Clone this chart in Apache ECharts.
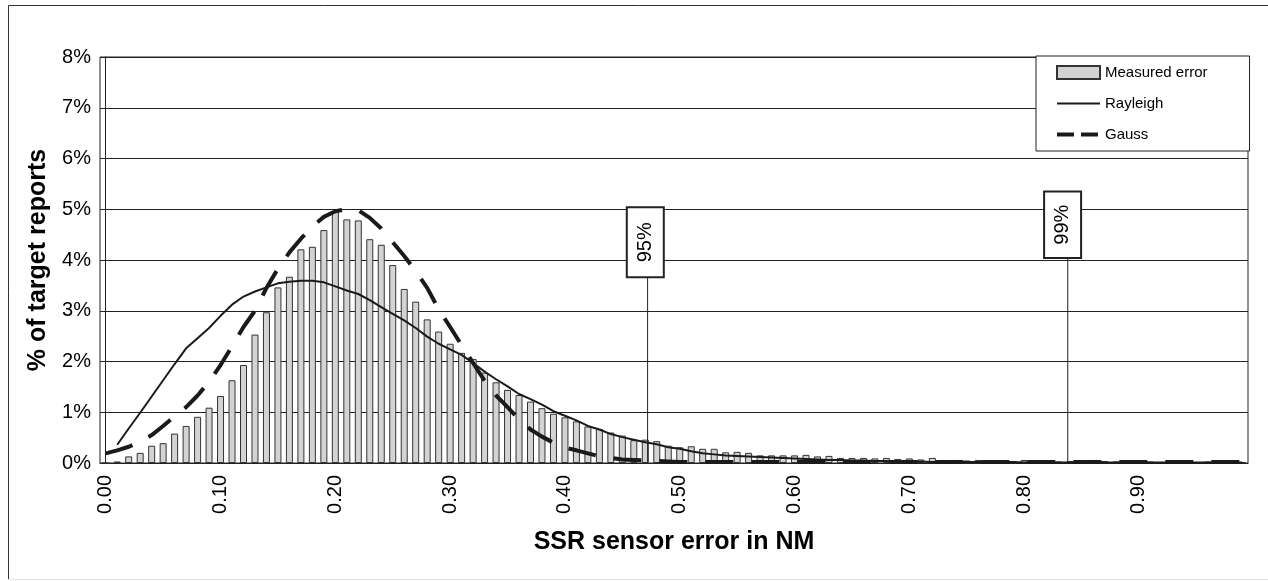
<!DOCTYPE html>
<html lang="en">
<head>
    <meta charset="UTF-8">
    <title>SSR sensor error</title>
    <style>
        html, body { margin: 0; padding: 0; background: #fff; }
    </style>
</head>
<body>
<div id="container" style="width:1268px;height:581px"></div>
<script type="text/javascript" src="https://cdn.jsdelivr.net/npm/echarts@6/dist/echarts.min.js"></script>
<script type="text/javascript">
    // categories 0.00 .. 0.99 NM
    var categories = [];
    for (var i = 0; i < 100; i++) {
        categories.push((i / 100).toFixed(2));
    }

    // measured error, % of target reports per 0.01 NM bin
    var measured = [
        0, 0.03, 0.13, 0.20, 0.34, 0.39, 0.58, 0.73, 0.91, 1.09,
        1.32, 1.63, 1.93, 2.53, 2.97, 3.46, 3.67, 4.21, 4.26, 4.59,
        4.95, 4.80, 4.78, 4.41, 4.30, 3.90, 3.43, 3.18, 2.83, 2.59,
        2.35, 2.17, 2.05, 1.78, 1.59, 1.44, 1.34, 1.21, 1.08, 0.97,
        0.90, 0.82, 0.72, 0.67, 0.60, 0.54, 0.45, 0.46, 0.43, 0.34,
        0.31, 0.33, 0.28, 0.28, 0.21, 0.22, 0.20, 0.15, 0.15, 0.15,
        0.15, 0.16, 0.13, 0.14, 0.10, 0.10, 0.10, 0.09, 0.10, 0.08,
        0.09, 0.07, 0.10, 0.06, 0.06, 0.05, 0.06, 0.05, 0.05, 0.04,
        0.06, 0.03, 0.04, 0.03, 0.04, 0.03, 0.06, 0.04, 0.03, 0.02,
        0.04, 0.03, 0.02, 0.03, 0.02, 0.02, 0.03, 0.02, 0.02, 0.02
    ];

    var rayleigh = [
        '-', 0.36, 0.68, 0.99, 1.31, 1.63, 1.95, 2.26, 2.46, 2.66,
        2.90, 3.12, 3.28, 3.38, 3.46, 3.54, 3.57, 3.59, 3.59, 3.56,
        3.48, 3.40, 3.33, 3.21, 3.07, 2.94, 2.81, 2.66, 2.49, 2.35,
        2.24, 2.13, 1.97, 1.80, 1.65, 1.51, 1.36, 1.26, 1.15, 1.02,
        0.93, 0.84, 0.73, 0.66, 0.57, 0.51, 0.46, 0.41, 0.37, 0.31,
        0.28, 0.23, 0.19, 0.17, 0.15, 0.14, 0.13, 0.12, 0.11, 0.10,
        0.09, 0.08, 0.07, 0.06, 0.06, 0.05, 0.05, 0.04, 0.04, 0.03,
        0.03, 0.03, 0.02, 0.02, 0.02, 0.02, 0.02, 0.02, 0.02, 0.02,
        0.01, 0.01, 0.01, 0.01, 0.01, 0.01, 0.01, 0.01, 0.01, 0.01,
        0.01, 0.01, 0.01, 0.01, 0.01, 0.01, 0.01, 0.01, 0.01, 0.01
    ];

    var gauss = [
        0.19, 0.25, 0.32, 0.42, 0.55, 0.73, 0.92, 1.10, 1.33, 1.60,
        1.93, 2.30, 2.68, 3.00, 3.45, 3.83, 4.15, 4.42, 4.66, 4.85,
        4.96, 5.00, 4.98, 4.83, 4.62, 4.35, 4.08, 3.78, 3.45, 3.03,
        2.68, 2.32, 1.97, 1.62, 1.33, 1.10, 0.86, 0.66, 0.52, 0.40,
        0.30, 0.25, 0.19, 0.13, 0.10, 0.07, 0.06, 0.05, 0.04, 0.03,
        0.02, 0.02, 0.02, 0.02, 0.02, 0.02, 0.02, 0.02, 0.02, 0.02,
        0.02, 0.02, 0.02, 0.02, 0.02, 0.02, 0.02, 0.02, 0.02, 0.02,
        0.02, 0.02, 0.02, 0.02, 0.02, 0.02, 0.02, 0.02, 0.02, 0.02,
        0.02, 0.02, 0.02, 0.02, 0.02, 0.02, 0.02, 0.02, 0.02, 0.02,
        0.02, 0.02, 0.02, 0.02, 0.02, 0.02, 0.02, 0.02, 0.02, 0.02
    ];

    // 95% / 99% quantile markers (in category-index units), box top/bottom in %
    var markerText = ['95%', '99%'];
    var markerLineX = [47.2, 83.8];
    var markerBoxX = [47.0, 83.35];
    var markerTop = [5.04, 5.35];
    var markerBottom = [3.66, 4.04];

    var yTicks = [0, 1, 2, 3, 4, 5, 6, 7, 8];

    var markers = markerText.map(function (t, k) {
        return [markerLineX[k], markerBoxX[k], markerTop[k], markerBottom[k]];
    });

    var font = '"Liberation Sans", Arial, sans-serif';

    var dom = document.getElementById('container');
    var myChart = echarts.init(dom, null, { renderer: 'canvas' });

    var option = {
        backgroundColor: '#fff',
        animation: false,
        textStyle: { fontFamily: font, color: '#000' },
        grid: {
            left: 100, right: 20, top: 57, bottom: 118,
            show: true, borderColor: '#222', borderWidth: 1, backgroundColor: '#fff'
        },
        legend: {
            orient: 'vertical',
            left: 1036, top: 56,
            padding: [9, 42, 9, 19],
            itemGap: 16,
            itemWidth: 43, itemHeight: 13,
            itemTextGap: 5,
            backgroundColor: '#fff',
            borderColor: '#222', borderWidth: 1, borderRadius: 0,
            textStyle: { fontFamily: font, fontSize: 15, color: '#000' },
            data: [
                { name: 'Measured error', icon: 'rect' },
                { name: 'Rayleigh', itemStyle: { opacity: 0 }, lineStyle: { width: 2 } },
                { name: 'Gauss', itemStyle: { opacity: 0 }, lineStyle: { type: [17, 7], width: 4 } }
            ]
        },
        xAxis: [
            {
                type: 'category',
                data: categories,
                boundaryGap: true,
                axisLine: { lineStyle: { color: '#222', width: 1 } },
                axisTick: { interval: 4, length: 4, lineStyle: { color: '#222' } },
                axisLabel: {
                    interval: 9, rotate: 90, margin: 12,
                    fontSize: 20, color: '#000', fontFamily: font
                },
                name: 'SSR sensor error in NM',
                nameLocation: 'middle',
                nameGap: 67,
                nameTextStyle: { fontSize: 25, fontWeight: 'bold', color: '#000', fontFamily: font }
            },
            {
                type: 'value', min: -0.5, max: 99.5, show: false
            }
        ],
        yAxis: {
            type: 'value',
            min: 0, max: 8, interval: 1,
            axisLine: { show: true, lineStyle: { color: '#222' } },
            axisTick: { show: true, length: 5, lineStyle: { color: '#222' } },
            splitLine: { lineStyle: { color: '#222', width: 1 } },
            axisLabel: {
                formatter: function (v) { return yTicks.indexOf(v) >= 0 ? v + '%' : ''; },
                fontSize: 20, color: '#000', margin: 9, fontFamily: font
            },
            name: '% of target reports',
            nameLocation: 'middle',
            nameGap: 49,
            nameTextStyle: { fontSize: 25, fontWeight: 'bold', color: '#000', fontFamily: font }
        },
        series: [
            {
                name: 'Measured error',
                type: 'bar',
                data: measured,
                barWidth: 7,
                itemStyle: { color: '#d3d3d3', borderColor: '#333', borderWidth: 1 },
                z: 2
            },
            {
                name: 'Rayleigh',
                type: 'line',
                data: rayleigh,
                symbol: 'none',
                lineStyle: { color: '#1a1a1a', width: 2 },
                itemStyle: { color: '#1a1a1a' },
                z: 3
            },
            {
                name: 'Gauss',
                type: 'line',
                data: gauss,
                symbol: 'none',
                lineStyle: { color: '#1a1a1a', width: 4, type: [28, 18] },
                itemStyle: { color: '#1a1a1a' },
                z: 4
            },
            {
                name: 'markers',
                type: 'custom',
                xAxisIndex: 1,
                data: markers,
                encode: { x: [0, 1], y: [2, 3] },
                z: 5,
                renderItem: function (params, api) {
                    var pl0 = api.coord([api.value(0), api.value(3)]);
                    var pl1 = api.coord([api.value(0), 0]);
                    var pt = api.coord([api.value(1), api.value(2)]);
                    var pb = api.coord([api.value(1), api.value(3)]);
                    var w = 37;
                    return {
                        type: 'group',
                        children: [
                            {
                                type: 'line',
                                shape: { x1: pl0[0], y1: pl0[1], x2: pl1[0], y2: pl1[1] },
                                style: { stroke: '#222', lineWidth: 1 }
                            },
                            {
                                type: 'rect',
                                shape: { x: pt[0] - w / 2, y: pt[1], width: w, height: pb[1] - pt[1] },
                                style: { fill: '#fff', stroke: '#222', lineWidth: 2 }
                            },
                            {
                                type: 'text',
                                x: pt[0],
                                y: (pt[1] + pb[1]) / 2,
                                rotation: Math.PI / 2,
                                style: {
                                    text: markerText[params.dataIndex],
                                    fill: '#000',
                                    font: '20px ' + font,
                                    align: 'center',
                                    verticalAlign: 'middle'
                                }
                            }
                        ]
                    };
                }
            }
        ],
        graphic: [
            {
                type: 'polyline',
                shape: { points: [[8.5, 580], [8.5, 5.5], [1268, 5.5]] },
                style: { stroke: '#333', lineWidth: 1, fill: null },
                silent: true
            },
            {
                type: 'line',
                shape: { x1: 8, y1: 579.5, x2: 1268, y2: 579.5 },
                style: { stroke: '#e6e6e6', lineWidth: 1 },
                silent: true
            }
        ]
    };

    myChart.setOption(option);
    window.addEventListener('resize', myChart.resize);
</script>
</body>
</html>
